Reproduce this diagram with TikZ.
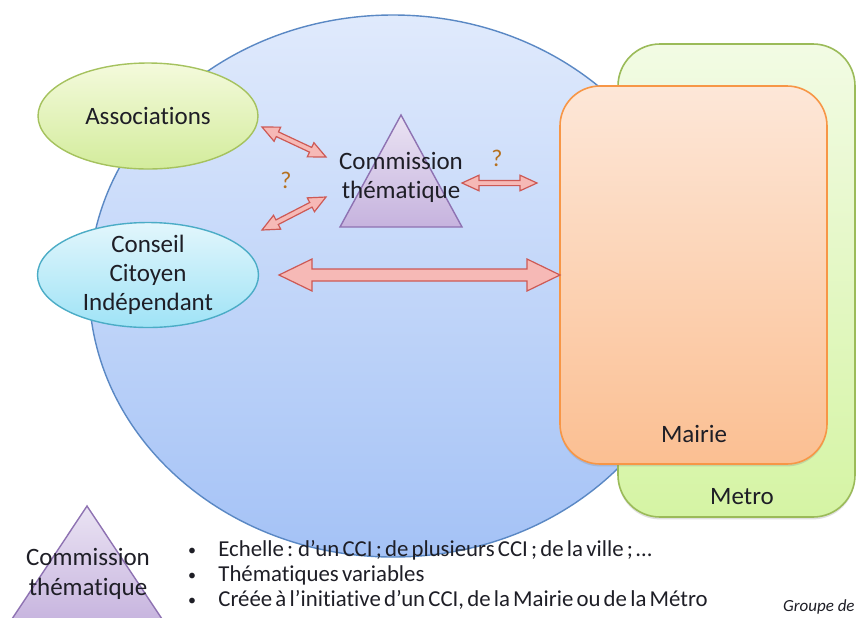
\documentclass[tikz,border=0pt]{standalone}
\usepackage{fontspec}
\setmainfont{Carlito}[Ligatures=NoCommon]
\usetikzlibrary{shapes.geometric,calc,shadows}

\definecolor{txt}{HTML}{1E1E26}
\definecolor{circTop}{HTML}{E0EAFC}
\definecolor{circBot}{HTML}{A4C2F6}
\definecolor{circLine}{HTML}{5A88C4}
\definecolor{metroTop}{HTML}{F2FBE4}
\definecolor{metroBot}{HTML}{D5F4A4}
\definecolor{metroLine}{HTML}{9BBB59}
\definecolor{mairieTop}{HTML}{FDE7D8}
\definecolor{mairieBot}{HTML}{FBBF92}
\definecolor{mairieLine}{HTML}{F79646}
\definecolor{assocTop}{HTML}{F4FADC}
\definecolor{assocBot}{HTML}{D3EC9C}
\definecolor{assocLine}{HTML}{A5C25E}
\definecolor{cciTop}{HTML}{E2F6FC}
\definecolor{cciBot}{HTML}{9FE3F6}
\definecolor{cciLine}{HTML}{4BACC6}
\definecolor{triTop}{HTML}{EAE3F3}
\definecolor{triBot}{HTML}{C6B3DE}
\definecolor{triLine}{HTML}{8E72B2}
\definecolor{arrFill}{HTML}{F6B9B6}
\definecolor{arrLine}{HTML}{CD5955}
\definecolor{qcol}{HTML}{B5701E}

% narrow word spacing for the notes
\newcommand{\narrowspaces}{\spaceskip=1.6pt plus 0.5pt\relax}

% double-headed block arrow between two named points:
% #1 start, #2 end, #3 shaft half-width, #4 head half-width, #5 head length
\newcommand{\blockarrow}[5]{%
  \draw[arrowbody] let \p1=(#1), \p2=(#2),
    \n1={atan2(\y2-\y1,\x2-\x1)}, \n2={veclen(\x2-\x1,\y2-\y1)} in
    [shift={(\p1)}, rotate=\n1]
    (0pt,0pt) -- (#5,#4) -- (#5,#3) -- ({\n2*1pt-#5},#3) -- ({\n2*1pt-#5},#4)
    -- ({\n2*1pt},0pt) -- ({\n2*1pt-#5},-#4) -- ({\n2*1pt-#5},-#3)
    -- (#5,-#3) -- (#5,-#4) -- cycle;}

\begin{document}
\begin{tikzpicture}[x=0.5pt,y=-0.5pt,
  lbl/.style={text=txt, font=\fontsize{12.5}{14.5}\selectfont, align=center, inner sep=0pt},
  bubble/.style={ellipse, line width=0.7pt, inner sep=0pt},
  panel/.style={rectangle, line width=0.8pt, inner sep=0pt},
  arrowbody/.style={draw=arrLine, fill=arrFill, line width=0.6pt, line join=miter},
  qmark/.style={text=qcol, font=\fontsize{12}{14}\selectfont, inner sep=0pt},
  bulletline/.style={text=txt, font=\fontsize{11.4}{13}\selectfont, inner sep=0pt, anchor=base west},
  dot/.style={text=txt, font=\fontsize{8}{10}\selectfont, inner sep=0pt, anchor=base}]

\useasboundingbox (0,0) rectangle (857,617);
\clip (0,0) rectangle (857,617);
\fill[white] (0,0) rectangle (857,617);

% the city-wide circle
\node[bubble, draw=circLine, top color=circTop, bottom color=circBot,
      minimum width=304pt, minimum height=271pt] (ville) at (393,286) {};

% Metro and Mairie panels
\node[panel, draw=metroLine, top color=metroTop, bottom color=metroBot,
      rounded corners=21pt, minimum width=118.5pt, minimum height=236.5pt,
      drop shadow={shadow xshift=0pt, shadow yshift=-1.2pt, opacity=0.25}] (metro) at (736.5,280.5) {};
\node[panel, draw=mairieLine, top color=mairieTop, bottom color=mairieBot,
      rounded corners=20pt, minimum width=133.5pt, minimum height=189pt,
      drop shadow={shadow xshift=0pt, shadow yshift=-1.2pt, opacity=0.25}] (mairie) at (693.5,275) {};
\node[lbl] (mairieLbl) at (694,434) {Mairie};
\node[lbl] (metroLbl) at (742,497) {Metro};

% actors
\node[bubble, draw=assocLine, top color=assocTop, bottom color=assocBot,
      minimum width=110pt, minimum height=53pt] (assoc) at (148,116) {};
\node[lbl] (assocLbl) at (148,116) {Associations};
\node[bubble, draw=cciLine, top color=cciTop, bottom color=cciBot,
      minimum width=110.5pt, minimum height=52.5pt] (cci) at (148,275) {};
\node[lbl] (cciLbl) at (148,275) {Conseil\\Citoyen\\Indépendant};

% thematic commission
\path[draw=triLine, line width=0.7pt, top color=triTop, bottom color=triBot]
  (401,115) -- (462,227) -- (340,227) -- cycle;
\node[lbl] (comm) at (401,177) {Commission\\thématique};

% exchanges
\coordinate (a1s) at (262,127); \coordinate (a1e) at (326,157);
\coordinate (a2s) at (262,230); \coordinate (a2e) at (326,197);
\coordinate (a3s) at (462,183); \coordinate (a3e) at (537,183);
\coordinate (a4s) at (279,275); \coordinate (a4e) at (560,275);
\blockarrow{a1s}{a1e}{1.3pt}{3.9pt}{8.5pt}
\blockarrow{a2s}{a2e}{1.3pt}{3.9pt}{8.5pt}
\blockarrow{a3s}{a3e}{1.3pt}{3.9pt}{8.5pt}
\blockarrow{a4s}{a4e}{3pt}{8pt}{16.5pt}
\node[qmark] (q1) at (286,180) {?};
\node[qmark] (q2) at (497,158) {?};

% legend
\path[draw=triLine, line width=0.7pt, top color=triTop, bottom color=triBot]
  (87,506) -- (166,625) -- (8,625) -- cycle;
\node[lbl, font=\fontsize{12.5}{15}\selectfont] (legend) at (88,574) {Commission\\thématique};

\node[dot] (d1) at (192,555) {•};
\node[dot] (d2) at (192,580) {•};
\node[dot] (d3) at (192,605) {•};
\node[bulletline] (l1) at (218,556) {\narrowspaces Echelle : d’un CCI ; de plusieurs CCI ; de la ville ; …};
\node[bulletline] (l2) at (218,581) {\narrowspaces Thématiques variables};
\node[bulletline] (l3) at (218,606) {\narrowspaces Créée à l’initiative d’un CCI, de la Mairie ou de la Métro};

\node[text=txt, font=\fontsize{8.5}{10}\selectfont\itshape, inner sep=0pt, anchor=base east] (groupe) at (855,611) {Groupe de};
\end{tikzpicture}
\end{document}
